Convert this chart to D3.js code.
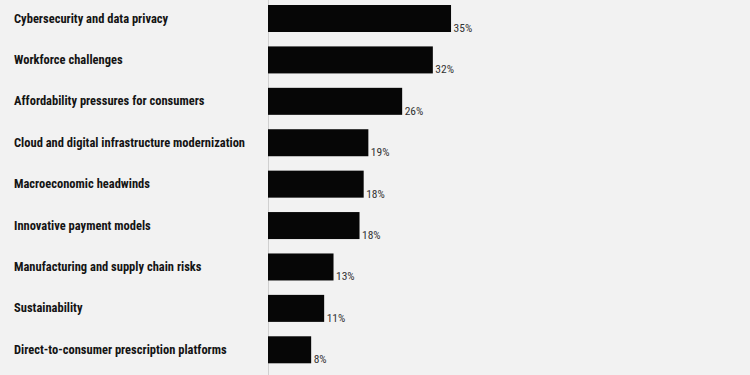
<!DOCTYPE html>
<html>
<head>
<meta charset="utf-8">
<script src="https://cdn.jsdelivr.net/npm/d3@7"></script>
<style>
  html, body { margin: 0; padding: 0; background: #f2f2f2; }
  svg { display: block; }
</style>
</head>
<body>
<svg id="chart" width="750" height="375"></svg>
<script>
const categories = [
  "Cybersecurity and data privacy",
  "Workforce challenges",
  "Affordability pressures for consumers",
  "Cloud and digital infrastructure modernization",
  "Macroeconomic headwinds",
  "Innovative payment models",
  "Manufacturing and supply chain risks",
  "Sustainability",
  "Direct-to-consumer prescription platforms"
];
const values = [35.2, 31.7, 25.8, 19.3, 18.4, 17.6, 12.6, 10.8, 8.3];
const valueLabels = ["35%", "32%", "26%", "19%", "18%", "18%", "13%", "11%", "8%"];

const W = 750, H = 375;
const svg = d3.select("#chart");
svg.append("rect").attr("width", W).attr("height", H).attr("fill", "#f2f2f2");

const x = d3.scaleLinear().domain([0, 40]).range([268, 476]);
const y = d3.scaleBand().domain(categories).range([-2.2, 370.5])
  .paddingInner(0.348).paddingOuter(0.174);

const data = categories.map((c, i) => ({ c, v: values[i], l: valueLabels[i] }));

// baseline axis
svg.append("line")
  .attr("x1", x(0) + 0.5).attr("x2", x(0) + 0.5)
  .attr("y1", 0).attr("y2", H)
  .attr("stroke", "#d0d0d0").attr("stroke-width", 1);

svg.selectAll("rect.bar").data(data).join("rect")
  .attr("class", "bar")
  .attr("x", x(0))
  .attr("y", d => y(d.c))
  .attr("width", d => x(d.v) - x(0))
  .attr("height", y.bandwidth())
  .attr("fill", "#060606");

svg.selectAll("text.cat").data(data).join("text")
  .attr("class", "cat")
  .attr("x", 14)
  .attr("y", d => y(d.c) + y.bandwidth() / 2 + 4)
  .attr("font-family", "'Liberation Sans Narrow', 'Roboto Condensed', 'Roboto', sans-serif")
  .attr("font-weight", "bold")
  .attr("font-size", 12.5)
  .attr("fill", "#141414")
  .text(d => d.c);

svg.selectAll("text.val").data(data).join("text")
  .attr("class", "val")
  .attr("x", d => x(d.v) + 2.5)
  .attr("y", d => y(d.c) + y.bandwidth())
  .attr("font-family", "'Liberation Sans Narrow', 'Roboto Condensed', 'Roboto', sans-serif")
  .attr("font-size", 11.5)
  .attr("fill", "#333")
  .text(d => d.l);
</script>
</body>
</html>
